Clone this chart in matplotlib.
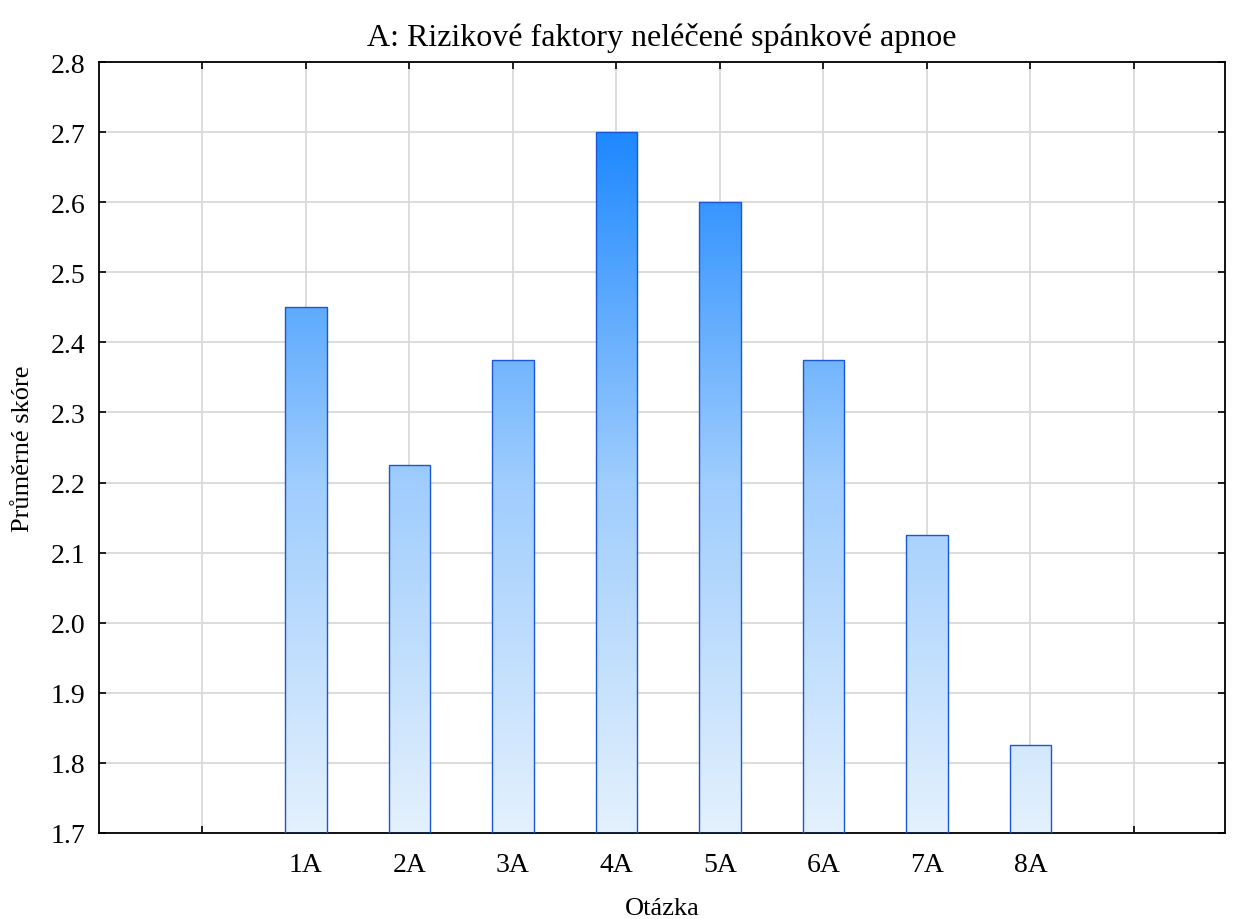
import matplotlib
matplotlib.use("Agg")
import matplotlib.pyplot as plt
import numpy as np
from matplotlib.colors import LinearSegmentedColormap
from matplotlib.patches import Rectangle

plt.rcParams['font.family'] = ['Liberation Serif', 'DejaVu Serif']

# data
categories = ["1A", "2A", "3A", "4A", "5A", "6A", "7A", "8A"]
scores = [2.45, 2.225, 2.375, 2.7, 2.6, 2.375, 2.125, 1.825]
y_min, y_max = 1.7, 2.8

fig = plt.figure(figsize=(12.45, 9.2), dpi=100)
ax = fig.add_axes([99 / 1245, 1 - 834 / 920, 1126 / 1245, 771 / 920])

# gradient from light (bottom) to strong blue at 2.7
cmap = LinearSegmentedColormap.from_list("bl", ["#e4f1fd", "#9fcdfd", "#1e88ff"])
grad = np.linspace(0, 1, 256).reshape(-1, 1)

xs = np.arange(1, len(categories) + 1)
w = 0.4
for x, v in zip(xs, scores):
    rect = Rectangle((x - w / 2, y_min), w, v - y_min, facecolor="none",
                     edgecolor="#1a56d6", lw=1.0, zorder=3)
    ax.add_patch(rect)
    im = ax.imshow(grad, cmap=cmap, origin="lower", aspect="auto",
                   extent=(x - w / 2, x + w / 2, y_min, 2.7),
                   zorder=2, interpolation="bicubic")
    im.set_clip_path(rect)

ax.set_xlim(-1.0, 9.88)
ax.set_ylim(y_min, y_max)
ax.set_xticks(np.arange(0, 10))
ax.set_xticklabels([""] + categories + [""])
ax.set_yticks(np.arange(1.7, 2.81, 0.1))
ax.set_yticklabels([f"{t:.1f}" for t in np.arange(1.7, 2.81, 0.1)])
ax.grid(True, color="#d9d9d9", lw=1.3, zorder=0)
ax.set_axisbelow(True)
ax.tick_params(direction="in", length=5, width=1.2, top=True, right=True,
               labelsize=20)
ax.tick_params(axis="x", pad=14)
ax.tick_params(axis="y", pad=10)
for s in ax.spines.values():
    s.set_linewidth(1.3)

ax.set_title("A: Rizikové faktory neléčené spánkové apnoe", fontsize=23, pad=12)
ax.set_xlabel("Otázka", fontsize=19, labelpad=14)
ax.set_ylabel("Průměrné skóre", fontsize=19, labelpad=12)

fig.savefig("out.png", dpi=100)
